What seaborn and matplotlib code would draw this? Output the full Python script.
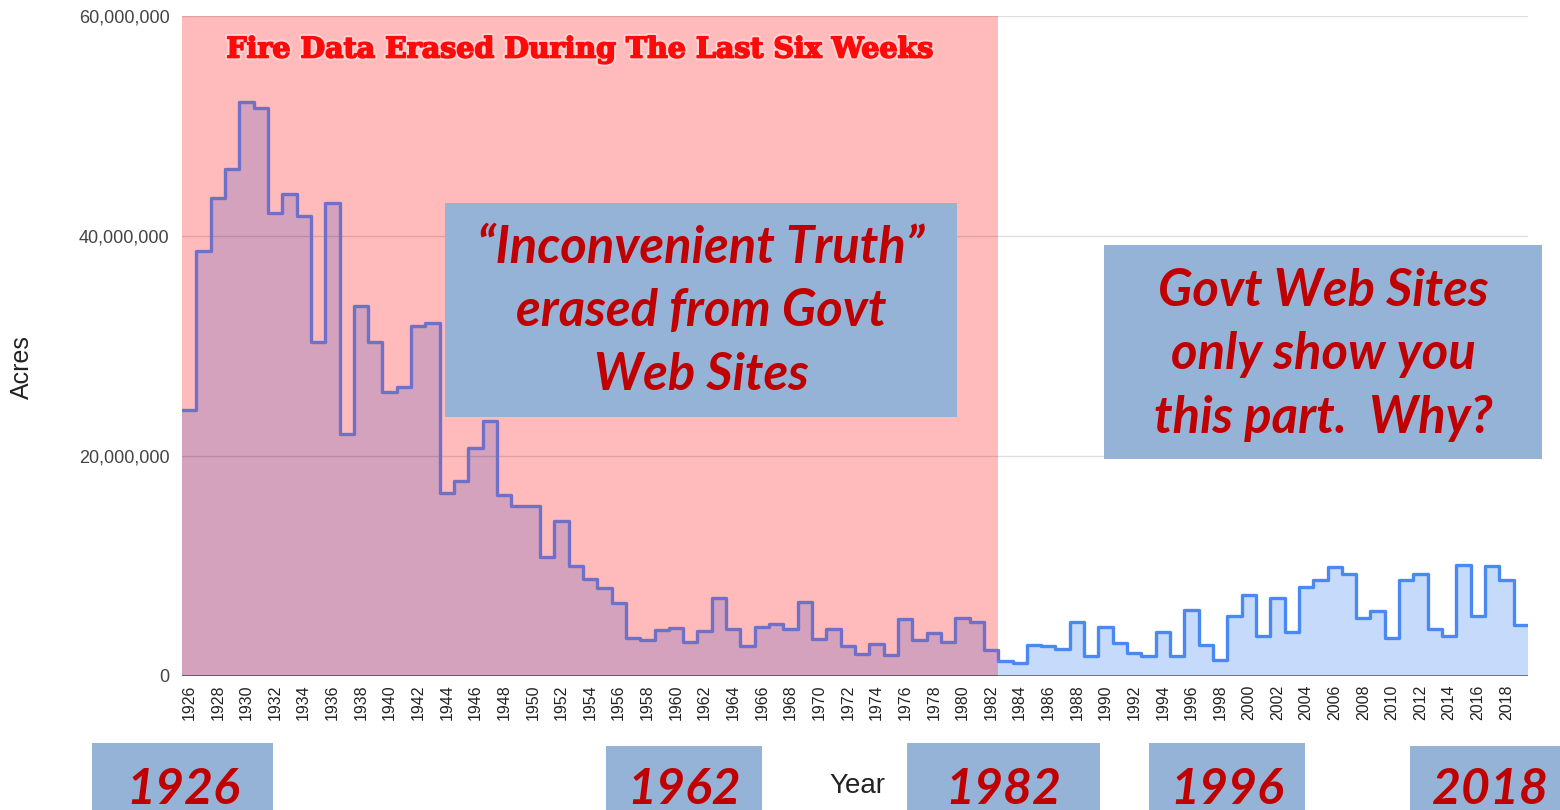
import numpy as np
import pandas as pd
import matplotlib
matplotlib.use("Agg")
import matplotlib.pyplot as plt
import matplotlib.patheffects as pe
import seaborn as sns
from matplotlib.patches import Rectangle

# burned acres per year (millions)
years = np.arange(1926, 2020)
acres_m = [
    24.2, 38.6, 43.5, 46.1, 52.2, 51.6, 42.1, 43.8, 41.8, 30.4,
    43.0, 22.0, 33.6, 30.4, 25.8, 26.3, 31.8, 32.1, 16.6, 17.7,
    20.7, 23.2, 16.5, 15.5, 15.5, 10.8, 14.1, 10.0, 8.8, 8.0,
    6.6, 3.5, 3.3, 4.2, 4.4, 3.1, 4.1, 7.1, 4.3, 2.7,
    4.5, 4.7, 4.3, 6.7, 3.4, 4.3, 2.7, 2.0, 2.9, 1.9,
    5.2, 3.3, 3.9, 3.1, 5.3, 4.9, 2.4, 1.4, 1.15, 2.8,
    2.7, 2.5, 4.9, 1.8, 4.5, 3.0, 2.1, 1.8, 4.0, 1.8,
    6.0, 2.8, 1.45, 5.5, 7.4, 3.6, 7.1, 4.0, 8.1, 8.7,
    9.9, 9.3, 5.3, 5.9, 3.5, 8.7, 9.3, 4.3, 3.6, 10.1,
    5.5, 10.0, 8.7, 4.6,
]
acres = np.array(acres_m) * 1e6

erased_start = 1926
erased_end = 1983          # first year still shown on govt sites
yticks = [0, 20e6, 40e6, 60e6]

title = "Fire Data Erased During The Last Six Weeks"
box1_lines = ["\u201cInconvenient Truth\u201d", "erased from Govt", "Web Sites"]
box2_lines = ["Govt Web Sites", "only show you", "this part.  Why?"]
year_tags = ["1926", "1962", "1982", "1996", "2018"]

df = pd.DataFrame({"year": years, "acres": acres})
# extra point so the last step gets its full width
df_ext = pd.concat([df, pd.DataFrame({"year": [years[-1] + 1], "acres": [acres[-1]]})],
                   ignore_index=True)
old = df_ext[df_ext["year"] <= erased_end]
new = df_ext[df_ext["year"] >= erased_end]

sns.set_style("white")
plt.rcParams["font.family"] = ["Liberation Sans", "DejaVu Sans"]

W, H = 1560, 810
fig = plt.figure(figsize=(W / 100, H / 100), dpi=100)
fig.patch.set_facecolor("white")
ax = fig.add_axes([182 / W, 1 - 676 / H, (1528 - 182) / W, (676 - 16) / H])

ax.axvspan(erased_start, erased_end, color="#FFBBBB", lw=0, zorder=1)

ax.fill_between(old["year"], old["acres"], step="post", color="#D4A2BD", lw=0, zorder=2)
ax.fill_between(new["year"], new["acres"], step="post", color="#C6DAFC", lw=0, zorder=2)

for yv in yticks[1:]:
    ax.axhline(yv, color="black", alpha=0.13, lw=1, zorder=2.5)
ax.axhline(0, color="black", alpha=0.55, lw=1.2, zorder=2.6)

sns.lineplot(data=old, x="year", y="acres", drawstyle="steps-post", color="#6F70C8",
             lw=2.4, ax=ax, zorder=3, solid_joinstyle="round")
sns.lineplot(data=new, x="year", y="acres", drawstyle="steps-post", color="#4A89F3",
             lw=2.4, ax=ax, zorder=3, solid_joinstyle="round")

ax.set_xlim(years[0], years[-1] + 1)
ax.set_ylim(0, 60e6)
ax.set_yticks(yticks)
ax.set_yticklabels([f"{int(v):,}" for v in yticks], fontsize=13, color="#444444")
tick_years = years[::2]
ax.set_xticks(tick_years + 0.5)
ax.set_xticklabels([str(y) for y in tick_years], rotation=90, fontsize=11.5, color="#222222")
ax.tick_params(axis="both", length=0)
ax.tick_params(axis="y", pad=9)
ax.tick_params(axis="x", pad=6)
ax.set_xlabel("")
ax.set_ylabel("")
for s in ax.spines.values():
    s.set_visible(False)

def fx(x):
    return x / W

def fy(y):
    return 1 - y / H

fig.text(fx(22), fy(367), "Acres", rotation=90, ha="center", va="center", fontsize=18, color="#222222")
fig.text(fx(857), fy(786), "Year", ha="center", va="center", fontsize=20, color="#222222")

fig.text(fx(580), fy(50), title, ha="center", va="center", fontsize=20.5, fontweight="bold",
         family="DejaVu Serif", color="#FF0A0A", zorder=6,
         path_effects=[pe.Stroke(linewidth=4, foreground="#FFE0E0", alpha=0.6),
                       pe.Stroke(linewidth=1.2, foreground="#FF0A0A"), pe.Normal()])

box_color = "#95B3D7"
text_red = "#C00000"
big_font = dict(family=["Lato", "DejaVu Sans"], fontweight="bold", style="italic", color=text_red)

def box(x0, y0, x1, y1):
    fig.add_artist(Rectangle((fx(x0), fy(y1)), (x1 - x0) / W, (y1 - y0) / H,
                             transform=fig.transFigure, facecolor=box_color,
                             edgecolor="none", zorder=5))

box(445, 203, 957, 417)
for i, line in enumerate(box1_lines):
    fig.text(fx(701), fy(248 + 64 * i), line, ha="center", va="center", fontsize=36.5,
             zorder=6, **big_font)

box(1104, 245, 1542, 459)
for i, line in enumerate(box2_lines):
    fig.text(fx(1323), fy(291 + 64 * i), line, ha="center", va="center", fontsize=36.5,
             zorder=6, **big_font)

tag_boxes = [(92, 743, 273), (606, 746, 762), (907, 743, 1100), (1149, 743, 1305), (1410, 746, 1560)]
tag_centers = [183, 684, 1003, 1227, 1490]
for tag, (x0, y0, x1), cx in zip(year_tags, tag_boxes, tag_centers):
    box(x0, y0, x1, 812)
    fig.text(fx(cx), fy(790), tag, ha="center", va="center", fontsize=36, zorder=6, **big_font)

fig.savefig("out.png", dpi=100)
